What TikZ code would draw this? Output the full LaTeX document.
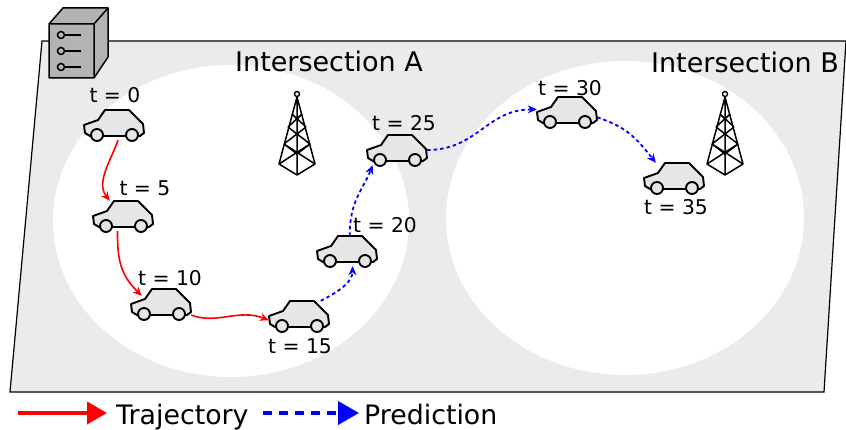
\documentclass[tikz,border=0pt]{standalone}
\usepackage{fontspec}
\setmainfont{DejaVu Sans}
\usepackage{xcolor}
\usetikzlibrary{positioning,arrows.meta}
\definecolor{groundgray}{HTML}{EBEBEB}
\definecolor{cargray}{HTML}{E6E6E6}
\definecolor{servergray}{HTML}{B3B3B3}
\tikzset{
    carbox/.style={minimum width=60pt, minimum height=30pt, inner sep=0pt},
    timelabel/.style={inner sep=0pt, font=\fontsize{20.3}{20}\selectfont},
    titlelabel/.style={inner sep=0pt, anchor=base, font=\fontsize{27}{27}\selectfont},
    legendlabel/.style={inner sep=0pt, anchor=base west, font=\fontsize{26.8}{27}\selectfont},
    trajedge/.style={red, line width=1.6pt, -{Stealth[length=9pt,width=8pt]}},
    prededge/.style={blue, line width=1.8pt, dash pattern=on 3.5pt off 3pt, -{Stealth[length=9pt,width=8pt]}},
    car/.pic={
        \draw[fill=cargray, line width=1.9pt, line join=round] (-9,-15) -- (15,-15) -- (29,-1) -- (30,8) -- (26,11)
            -- (-24,11) -- (-29,8) -- (-30,0) -- (-16,-5) -- cycle;
        \draw[fill=cargray, line width=1.9pt] (-17,10) circle (6);
        \draw[fill=cargray, line width=1.9pt] (18,10) circle (6);
    },
    tower/.pic={
        % legs
        \draw[line width=1.5pt, line join=round] (-18,70) -- (0,3) -- (18,70) -- (0,81) -- cycle (0,3) -- (0,81);
        % lattice
        \draw[line width=1.5pt] (-18,70) -- (13,50) (18,70) -- (-13,50) (-13,50) -- (0,60) -- (13,50)
            (-13,50) -- (9,33) (13,50) -- (-9,33) (-9,33) -- (0,40) -- (9,33)
            (-9,33) -- (5,20) (9,33) -- (-5,20) (-5,20) -- (0,25) -- (5,20);
        \draw[fill=white, line width=1.4pt] (0,0) circle (2.5);
    }
}
\begin{document}
\begin{tikzpicture}[x=1pt, y=-1pt]
\useasboundingbox (0,0) rectangle (846,430);
% ground
\draw[fill=groundgray, line width=1.2pt] (42,41) -- (846,41) -- (824,392) -- (10,392) -- cycle;
\fill[white] (231,221) ellipse [x radius=178, y radius=156];
\fill[white] (625,218) ellipse [x radius=179, y radius=157];
\node[titlelabel] (titleA) at (329,72) {Intersection A};
\node[titlelabel] (titleB) at (745,73) {Intersection B};
% server
\draw[fill=servergray, line width=1.5pt, line join=round] (49,24) -- (63,8) -- (108,8) -- (108,57) -- (94,78) -- (49,78) -- cycle;
\draw[line width=1.5pt, line join=round] (49,24) -- (94,24) -- (108,8) (94,24) -- (94,78);
\foreach \y in {35,51,67} {
    \draw[fill=servergray, line width=1.5pt] (61,\y) circle (3.5);
    \draw[line width=1.5pt] (64.5,\y) -- (81,\y);
}
% towers
\pic at (297,94) {tower};
\pic at (725,94) {tower};
% cars
\foreach \name/\x/\y/\tval/\lx/\ly in {
    c0/114/125/0/115/95, c5/123/216/5/145/188, c10/161/304/10/170/278, c15/299/316/15/300/346,
    c20/347/251/20/385/225, c25/397/150/25/404/123, c30/567/112/30/570/88, c35/674/178/35/676/207} {
    \node[carbox] (\name) at (\x,\y) {};
    \pic at (\name) {car};
    \node[timelabel] (l\name) at (\lx,\ly) {t = \tval};
}
% edges
\draw[trajedge] (c0.-75) .. controls +(-8,22) and +(-14,-18) .. (c5.131);
\draw[trajedge, shorten >=-10pt] (c5.-110) .. controls +(0,30) and +(-14,-14) .. (c10.150);
\draw[trajedge] (c10.-20) .. controls +(25,10) and +(-30,-12) .. (c15.188);
\draw[prededge] (c15.35) .. controls +(20,-10) and +(0,15) .. (c20.-70);
\draw[prededge] (c20.80) .. controls +(0,-35) and +(-10,25) .. (c25.-148);
\draw[prededge] (c25.0) .. controls +(50,0) and +(-50,0) .. (c30.175);
\draw[prededge] (c30.-10) .. controls +(30,10) and +(-20,-25) .. (c35.140);
% legend
\coordinate (trajstart) at (18,413);
\coordinate (trajend) at (107,413);
\coordinate (predstart) at (263,413);
\coordinate (predend) at (359,413);
\draw[red, line width=4pt, -{Triangle[length=20pt,width=22pt]}] (trajstart) -- (trajend);
\draw[blue, line width=4pt, dash pattern=on 9pt off 7pt, -{Triangle[length=21pt,width=23pt]}] (predstart) -- (predend);
\node[legendlabel] (trajlabel) at (116,424) {Trajectory};
\node[legendlabel] (predlabel) at (364,424) {Prediction};
\end{tikzpicture}
\end{document}
